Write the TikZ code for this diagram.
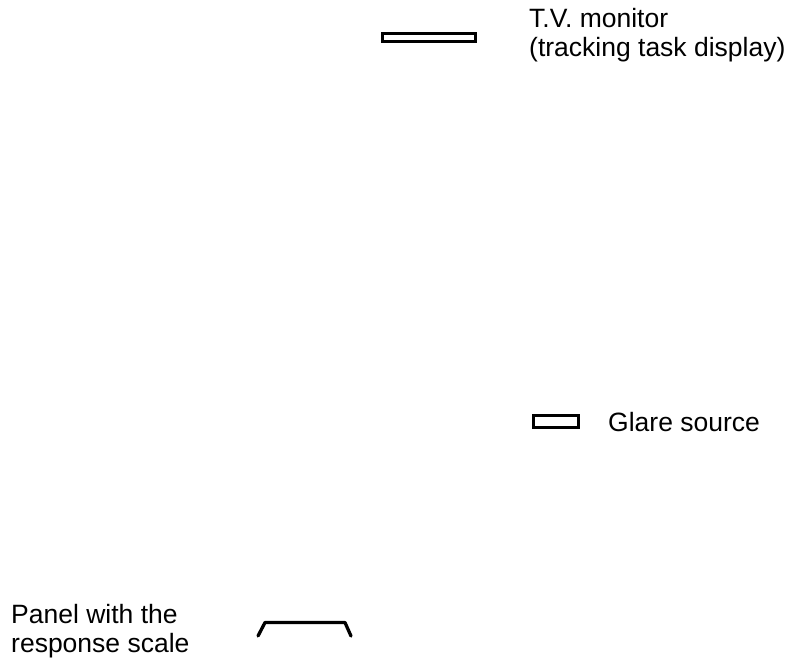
\documentclass[tikz,border=0pt]{standalone}
\usepackage{fontspec}
\setmainfont{Liberation Sans}
\begin{document}
\begin{tikzpicture}[x=1pt,y=-1pt,
  lbl/.style={anchor=north west,inner sep=0pt,font=\fontsize{26.5}{29.5}\selectfont,align=left},
  obj/.style={draw,line width=3.3pt}]
\useasboundingbox (0,0) rectangle (796,665);
\draw[obj] (382.6,33.6) rectangle (475.6,41.6);
\node[lbl] (montxt) at (529,8) {T.V. monitor\\(tracking task display)};
\draw[obj] (533.6,415.6) rectangle (578.4,427.4);
\node[lbl,anchor=base west] (glaretxt) at (608,431) {Glare source};
\draw[obj,line cap=round,line join=round] (258,636) -- (265,622.5) -- (345,622.5) -- (351,636);
\node[lbl] (paneltxt) at (11,604) {Panel with the\\response scale};
\end{tikzpicture}
\end{document}
